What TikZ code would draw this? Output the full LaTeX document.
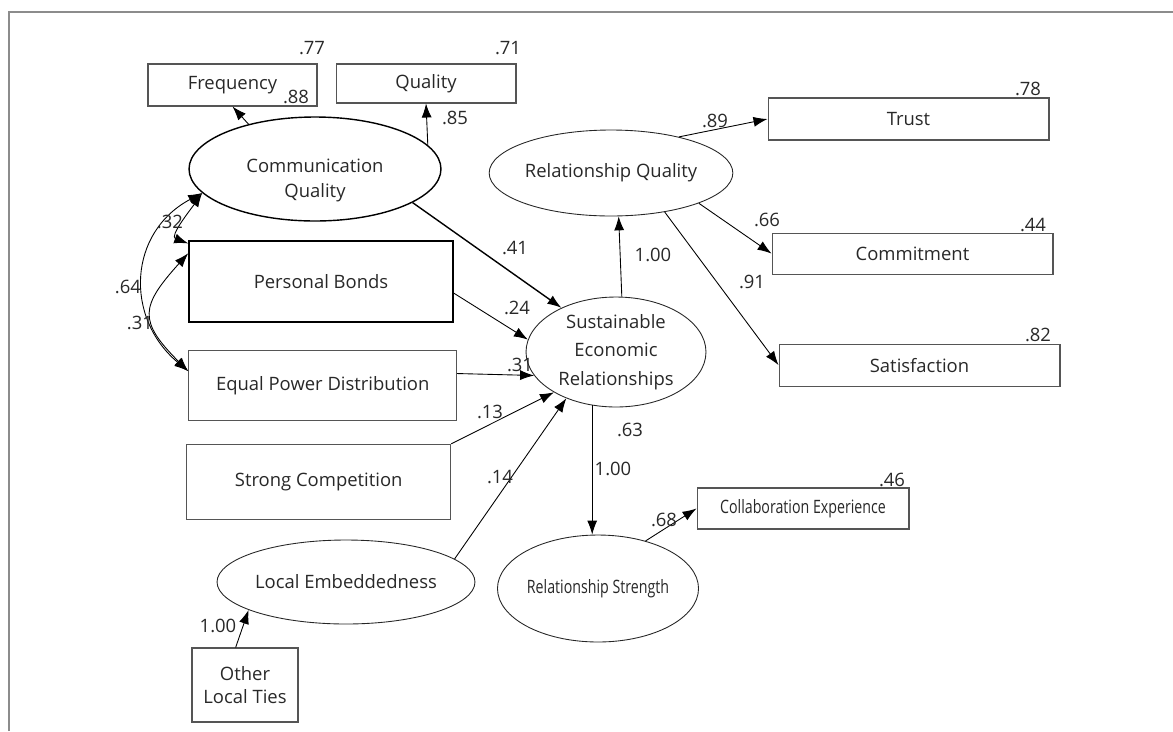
\documentclass[tikz,border=0pt]{standalone}
\usepackage{fontspec}
\usepackage{graphicx}
\setmainfont{Open Sans}
\newcommand{\narrowtext}[1]{\scalebox{0.77}[1]{#1}}
\usetikzlibrary{shapes.geometric,positioning,arrows.meta}
\definecolor{framegray}{RGB}{140,140,140}
\definecolor{boxgray}{RGB}{85,85,85}
\definecolor{textgray}{RGB}{40,40,40}
\tikzset{
    onehead/.style={-{Latex[length=2.8mm,width=2mm]}},
    twohead/.style={{Latex[length=2.8mm,width=2mm]}-{Latex[length=2.8mm,width=2mm]}},
}

\begin{document}
\begin{tikzpicture}[x=0.02cm, y=0.02cm, line width=0.5pt,
    every node/.style={text=textgray, font=\fontsize{10.5}{12.6}\selectfont},
    measured/.style={rectangle, draw=boxgray, line width=0.6pt, inner sep=0pt, align=center},
    latent/.style={ellipse, draw=black!85, line width=0.5pt, inner sep=0pt, align=center},
    coef/.style={inner sep=0pt}]
  \useasboundingbox (0,0) rectangle (1173,-731);
  \draw[framegray, line width=1.2pt] (9,-731) -- (9,-12) -- (1173,-12);

  \node[measured, minimum width=3.38cm, minimum height=0.84cm] (frequency) at (232.5,-85) {Frequency};
  \node[measured, minimum width=3.6cm, minimum height=0.78cm, right=0.36cm of frequency.north east, anchor=north west] (quality) {Quality};
  \node[latent, minimum width=5.04cm, minimum height=2.08cm, draw=black, line width=0.8pt,
        label={[name=commqualitytext, yshift=-0.23cm, align=center]center:Communication\\[1.6pt]Quality}] (commquality) at (315,-169) {};

  \node[measured, draw=black, line width=0.9pt, minimum width=5.28cm, minimum height=1.62cm] (personalbonds) at (321,-281.5) {Personal Bonds};
  \node[measured, minimum width=5.36cm, minimum height=1.4cm, below=0.54cm of personalbonds.south west, anchor=north west] (powerdistribution) {Equal Power Distribution};
  \node[measured, minimum width=5.28cm, minimum height=1.5cm, below=0.46cm of powerdistribution.south west, anchor=north west, xshift=-0.04cm] (competition) {Strong Competition};
  \node[latent, minimum width=5.16cm, minimum height=1.68cm] (embeddedness) at (346,-582) {Local Embeddedness};
  \node[measured, minimum width=2.12cm, minimum height=1.48cm] (localties) at (245,-685) {Other\\Local Ties};

  \node[latent, minimum width=3.6cm, minimum height=2.2cm] (sustainable) at (616,-352) {Sustainable\\[3.6pt]Economic\\[3.6pt]Relationships};
  \node[latent, minimum width=4.8cm, minimum height=1.72cm] (relquality) at (611,-173) {Relationship Quality};
  \node[latent, minimum width=3.56cm, minimum height=2.14cm] (relstrength) at (598,-588.5) {\narrowtext{Relationship Strength}};

  \node[measured, minimum width=5.62cm, minimum height=0.84cm] (trust) at (908.5,-119) {Trust};
  \node[measured, minimum width=5.62cm, minimum height=0.82cm, below=1.84cm of trust.south west, anchor=north west, xshift=0.08cm] (commitment) {Commitment};
  \node[measured, minimum width=5.62cm, minimum height=0.84cm, below=1.38cm of commitment.south west, anchor=north west, xshift=0.14cm] (satisfaction) {Satisfaction};
  \node[measured, minimum width=4.24cm, minimum height=0.82cm] (collaboration) at (803,-508.5) {\narrowtext{Collaboration Experience}};

  % PATHS
  \draw[onehead] (commquality.146) -- (frequency.south);
  \draw[onehead] (commquality.12) -- (quality.south);
  \draw[onehead, line width=0.8pt] (commquality.-19) -- (sustainable.141);
  \draw[onehead] (personalbonds.-5) -- (sustainable.172);
  \draw[onehead] (powerdistribution.5) -- (sustainable.196);
  \draw[onehead] (competition.north east) -- (sustainable.213);
  \draw[onehead] (embeddedness.12) -- (sustainable.223);
  \draw[onehead] (localties.104) -- (embeddedness.196);
  \draw[onehead] (sustainable.84) -- (relquality.-80);
  \draw[onehead] (relquality.28) -- (trust.west);
  \draw[onehead] (relquality.-19) -- (commitment.west);
  \draw[onehead] (relquality.-36) -- (satisfaction.west);
  \draw[onehead] (sustainable.-114) -- (sustainable.-114 |- relstrength.north);
  \draw[onehead] (relstrength.45) -- (collaboration.west);

  % CORRELATIONS
  \draw[twohead] (commquality.192) to[out=208, in=140, looseness=1.2] (powerdistribution.174);
  \draw[twohead] (commquality.192) to[out=235, in=160] (personalbonds.164);
  \draw[twohead] (personalbonds.168) to[out=228, in=135, looseness=1.55] (powerdistribution.174);

  % COEFFICIENTS
  \node[coef] (frequencyvar) at (312,-48) {.77};
  \node[coef] (frequencyload) at (296,-97) {.88};
  \node[coef] (qualityvar) at (508,-48) {.71};
  \node[coef] (qualityload) at (455,-118) {.85};
  \node[coef] (trustvar) at (1028,-89) {.78};
  \node[coef] (commitmentvar) at (1033,-225) {.44};
  \node[coef] (satisfactionvar) at (1038,-335) {.82};
  \node[coef] (collaborationvar) at (892,-480) {.46};
  \node[coef] (trustload) at (715,-121) {.89};
  \node[coef] (commitmentload) at (767,-220) {.66};
  \node[coef] (satisfactionload) at (752,-282) {.91};
  \node[coef] (relqualityload) at (653,-255) {1.00};
  \node[coef] (commqualitypath) at (515,-248) {.41};
  \node[coef] (bondspath) at (517,-308) {.24};
  \node[coef] (powerpath) at (520,-365) {.31};
  \node[coef] (competitionpath) at (490,-412) {.13};
  \node[coef] (embeddednesspath) at (500,-477) {.14};
  \node[coef] (sustainablevar) at (630,-430) {.63};
  \node[coef] (relstrengthload) at (613,-469) {1.00};
  \node[coef] (collaborationload) at (664,-520) {.68};
  \node[coef] (localtiesload) at (218,-626) {1.00};
  \node[coef] (commbondscorr) at (170,-222) {.32};
  \node[coef] (commpowercorr) at (128,-287) {.64};
  \node[coef] (bondspowercorr) at (140,-323) {.31};
\end{tikzpicture}
\end{document}
